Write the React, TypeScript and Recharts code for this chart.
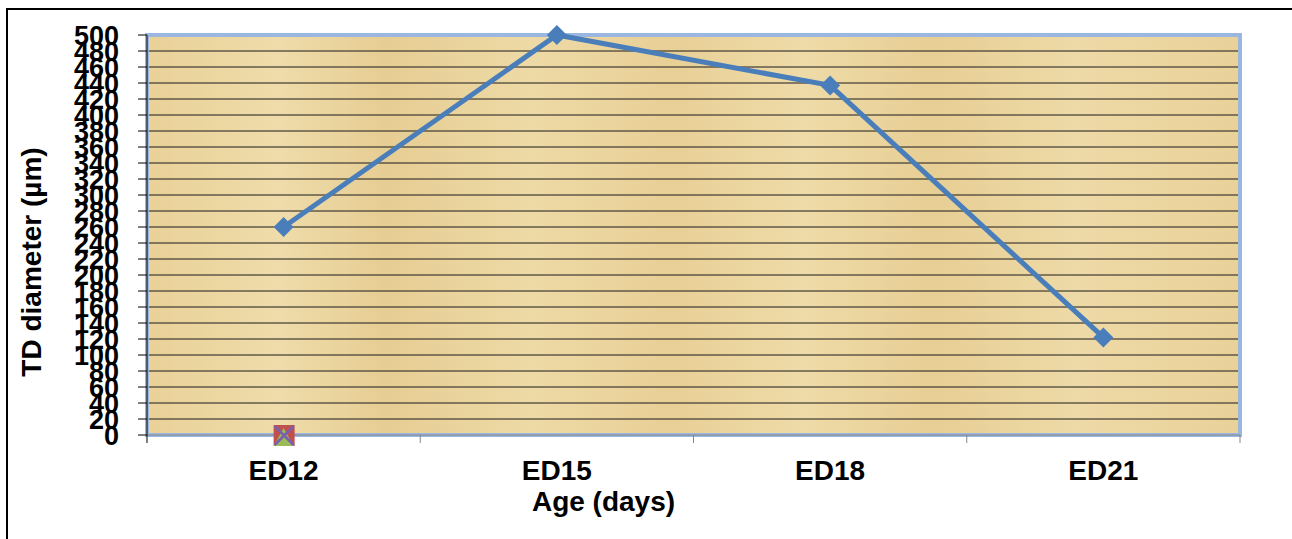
import React from "react";
import {
  ComposedChart,
  Line,
  XAxis,
  YAxis,
  CartesianGrid,
  ReferenceArea,
  Label,
} from "recharts";

const ages = ["ED12", "ED15", "ED18", "ED21"];
const tdDiameter = [260, 500, 437, 122];
// the extra (empty) series of the original sheet only show their markers at ED12
const seriesSquare = [0, null, null, null];
const seriesTriangle = [0, null, null, null];
const seriesCross = [0, null, null, null];
const yTicks = [
  0, 20, 40, 60, 80, 100, 120, 140, 160, 180, 200, 220, 240, 260, 280, 300,
  320, 340, 360, 380, 400, 420, 440, 460, 480, 500,
];

const FONT = "'Liberation Sans', Arial, sans-serif";

const chartData = ages.map((age, i) => ({
  age,
  td: tdDiameter[i],
  sq: seriesSquare[i],
  tri: seriesTriangle[i],
  cross: seriesCross[i],
}));

function Diamond(props: any) {
  const { cx, cy, value } = props;
  if (value == null || cx == null || cy == null) return null;
  const r = 10;
  return (
    <path
      d={`M${cx},${cy - r} L${cx + r},${cy} L${cx},${cy + r} L${cx - r},${cy} Z`}
      fill="#4A7EBB"
    />
  );
}

function SquareDot(props: any) {
  const { cx, cy, value } = props;
  if (value == null || cx == null || cy == null) return null;
  return <rect x={cx - 10} y={cy - 10} width={21} height={21} fill="#C0504D" />;
}

function TriangleDot(props: any) {
  const { cx, cy, value } = props;
  if (value == null || cx == null || cy == null) return null;
  return (
    <path d={`M${cx},${cy - 7} L${cx + 10},${cy + 11} L${cx - 10},${cy + 11} Z`} fill="#9BBB59" />
  );
}

function CrossDot(props: any) {
  const { cx, cy, value } = props;
  if (value == null || cx == null || cy == null) return null;
  return (
    <path
      d={`M${cx - 9},${cy - 9} L${cx + 10},${cy + 10} M${cx + 10},${cy - 9} L${cx - 9},${cy + 10}`}
      stroke="#7A5FB0"
      strokeWidth={2.5}
    />
  );
}

// category label in the middle of the band, tick marks on the band edges (Excel style)
function AgeTick(props: any) {
  const { x, y, payload, index, visibleTicksCount } = props;
  const half = payload?.offset ?? 0;
  return (
    <g>
      <line x1={x - half} x2={x - half} y1={y} y2={y + 8} stroke={index === 0 ? "#000" : "#868686"} />
      {index === visibleTicksCount - 1 && (
        <line x1={x + half} x2={x + half} y1={y} y2={y + 8} stroke="#868686" />
      )}
      <text
        x={x}
        y={y + 25}
        dy="0.71em"
        textAnchor="middle"
        fill="#000"
        fontSize={28}
        fontWeight={700}
        fontFamily={FONT}
      >
        {payload.value}
      </text>
    </g>
  );
}

function XTitle(props: any) {
  const vb = props.viewBox || {};
  return (
    <text
      x={vb.x + vb.width / 2 - 90}
      y={vb.y + 76}
      textAnchor="middle"
      fill="#000"
      fontSize={28}
      fontWeight={700}
      fontFamily={FONT}
    >
      Age (days)
    </text>
  );
}

function YTitle(props: any) {
  const vb = props.viewBox || {};
  const cx = vb.x + 31;
  const cy = vb.y + vb.height / 2 + 27;
  return (
    <text
      x={cx}
      y={cy}
      transform={`rotate(-90, ${cx}, ${cy})`}
      textAnchor="middle"
      dominantBaseline="central"
      fill="#000"
      fontSize={28}
      fontWeight={700}
      fontFamily={FONT}
    >
      TD diameter (µm)
    </text>
  );
}

export default function App() {
  return (
    <div
      style={{
        position: "absolute",
        left: 0,
        top: 0,
        width: 1292,
        height: 539,
        overflow: "hidden",
        background: "#fff",
      }}
    >
      <div
        style={{
          position: "absolute",
          left: 6,
          top: 8,
          width: 1400,
          height: 700,
          borderLeft: "2px solid #000",
          borderTop: "2px solid #000",
        }}
      />
      <div style={{ position: "absolute", left: 0, top: 0 }}>
        <ComposedChart
          width={1292}
          height={539}
          data={chartData}
          margin={{ top: 35, right: 52, bottom: 44, left: 0 }}
        >
          <defs>
            {/* papyrus-like backdrop: soft vertical banding */}
            <linearGradient id="papyrus" x1="0" y1="0" x2="1" y2="0">
              <stop offset="0%" stopColor="#E9D198" />
              <stop offset="12%" stopColor="#EFDCAA" />
              <stop offset="22%" stopColor="#E6CD93" />
              <stop offset="35%" stopColor="#EEDAA6" />
              <stop offset="48%" stopColor="#E8CF96" />
              <stop offset="60%" stopColor="#EFDBA8" />
              <stop offset="72%" stopColor="#E7CE94" />
              <stop offset="85%" stopColor="#EEDAA7" />
              <stop offset="100%" stopColor="#E9D199" />
            </linearGradient>
          </defs>
          <CartesianGrid vertical={false} stroke="#1a1a1a" fill="url(#papyrus)" fillOpacity={1} />
          <ReferenceArea
            y1={0}
            y2={500}
            fill="none"
            stroke="#9BB7E0"
            strokeWidth={4}
            ifOverflow="visible"
          />
          <XAxis
            dataKey="age"
            scale="band"
            interval={0}
            height={60}
            tickLine={false}
            tickSize={0}
            tickMargin={0}
            axisLine={{ stroke: "#868686" }}
            tick={<AgeTick />}
          >
            <Label content={<XTitle />} />
          </XAxis>
          <YAxis
            width={147}
            domain={[0, 500]}
            ticks={yTicks}
            interval={0}
            tickSize={9}
            tickMargin={19}
            axisLine={{ stroke: "#000" }}
            tickLine={{ stroke: "#000" }}
            tick={{ fill: "#000", fontSize: 27, fontWeight: 700, fontFamily: FONT }}
          >
            <Label content={<YTitle />} />
          </YAxis>
          <Line
            dataKey="td"
            stroke="#4A7EBB"
            strokeWidth={5}
            dot={<Diamond />}
            activeDot={false}
            isAnimationActive={false}
          />
          <Line dataKey="sq" stroke="none" dot={<SquareDot />} activeDot={false} isAnimationActive={false} />
          <Line dataKey="tri" stroke="none" dot={<TriangleDot />} activeDot={false} isAnimationActive={false} />
          <Line dataKey="cross" stroke="none" dot={<CrossDot />} activeDot={false} isAnimationActive={false} />
        </ComposedChart>
      </div>
    </div>
  );
}
